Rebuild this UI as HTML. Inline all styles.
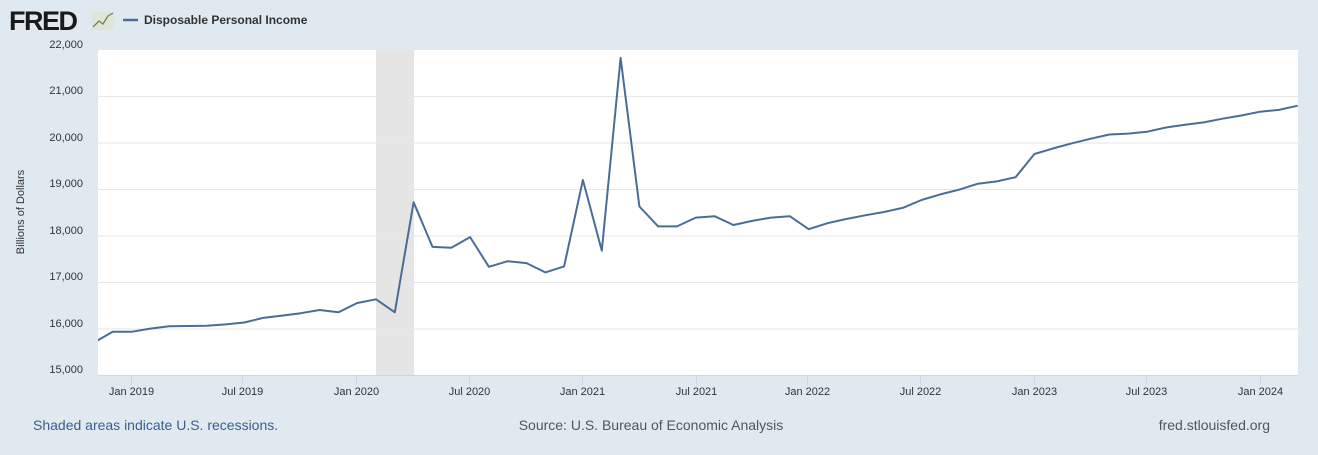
<!DOCTYPE html>
<html><head><style>
body{margin:0;background:#e1e9f0;width:1318px;height:450px;overflow:hidden;font-family:"Liberation Sans",sans-serif}
</style></head><body>
<svg width="1318" height="450" xmlns="http://www.w3.org/2000/svg" font-family="Liberation Sans, sans-serif">
<rect width="1318" height="450" fill="#e1e9f0"/>
<text x="9" y="30" font-size="27" font-weight="bold" fill="#1a1a1a" letter-spacing="-1.5">FRED</text>
<rect x="92" y="12" width="22" height="18" fill="#dfe6d8"/>
<polyline points="93,27 99,21 103,24 108,16 113,13" fill="none" stroke="#6a8a4a" stroke-width="1.3"/>
<line x1="123" y1="20" x2="138" y2="20" stroke="#4a6d98" stroke-width="2.5"/>
<text x="144" y="24" font-size="12" font-weight="bold" fill="#333">Disposable Personal Income</text>
<rect x="98" y="50" width="1200" height="325" fill="#fff"/>
<rect x="376" y="50" width="38" height="325" fill="#e5e5e5"/>
<g stroke="#e6e6e6" stroke-width="1">
<line x1="98" x2="1298" y1="96.5" y2="96.5"/><line x1="98" x2="1298" y1="143" y2="143"/>
<line x1="98" x2="1298" y1="189.5" y2="189.5"/><line x1="98" x2="1298" y1="236" y2="236"/>
<line x1="98" x2="1298" y1="282.5" y2="282.5"/><line x1="98" x2="1298" y1="329" y2="329"/>
</g>
<line x1="98" x2="1298" y1="375.5" y2="375.5" stroke="#ccd6eb"/>
<g stroke="#ccd6eb"><line x1="131.5" x2="131.5" y1="375" y2="385"/><line x1="242.5" x2="242.5" y1="375" y2="385"/><line x1="356.5" x2="356.5" y1="375" y2="385"/><line x1="469.5" x2="469.5" y1="375" y2="385"/><line x1="582.5" x2="582.5" y1="375" y2="385"/><line x1="696.5" x2="696.5" y1="375" y2="385"/><line x1="807.5" x2="807.5" y1="375" y2="385"/><line x1="920.5" x2="920.5" y1="375" y2="385"/><line x1="1034.5" x2="1034.5" y1="375" y2="385"/><line x1="1146.5" x2="1146.5" y1="375" y2="385"/><line x1="1260.5" x2="1260.5" y1="375" y2="385"/></g>
<g font-size="11" fill="#333" text-anchor="end">
<text x="83" y="48">22,000</text><text x="83" y="94">21,000</text><text x="83" y="141">20,000</text><text x="83" y="187">19,000</text><text x="83" y="234">18,000</text><text x="83" y="280">17,000</text><text x="83" y="327">16,000</text><text x="83" y="373">15,000</text>
</g>
<text transform="translate(24,212) rotate(-90)" font-size="11" fill="#333" text-anchor="middle">Billions of Dollars</text>
<g font-size="11" fill="#333" text-anchor="middle">
<text x="131.5" y="395">Jan 2019</text><text x="242.5" y="395">Jul 2019</text><text x="356.5" y="395">Jan 2020</text><text x="469.5" y="395">Jul 2020</text><text x="582.5" y="395">Jan 2021</text><text x="696.5" y="395">Jul 2021</text><text x="807.5" y="395">Jan 2022</text><text x="920.5" y="395">Jul 2022</text><text x="1034.5" y="395">Jan 2023</text><text x="1146.5" y="395">Jul 2023</text><text x="1260.5" y="395">Jan 2024</text>
</g>
<defs><clipPath id="c"><rect x="98" y="45" width="1200" height="335"/></clipPath></defs>
<polyline id="ln" clip-path="url(#c)" fill="none" stroke="#4a6d98" stroke-width="2" stroke-linejoin="round" points=""/>
<text x="33" y="430" font-size="14" fill="#3a5f8e">Shaded areas indicate U.S. recessions.</text>
<text x="651" y="430" font-size="14" fill="#555" text-anchor="middle">Source: U.S. Bureau of Economic Analysis</text>
<text x="1270" y="430" font-size="14" fill="#555" text-anchor="end">fred.stlouisfed.org</text>
</svg>
<script>
var v=[15700,15930,15930,16000,16050,16055,16060,16090,16130,16230,16280,16330,16400,16350,16550,16630,16350,18720,17760,17740,17970,17330,17450,17410,17210,17340,19200,17680,21830,18630,18200,18200,18390,18420,18230,18320,18390,18420,18140,18270,18360,18440,18510,18600,18770,18890,18990,19120,19170,19260,19760,19880,19990,20090,20180,20200,20240,20330,20390,20440,20520,20590,20670,20710,20800];
var p=[];for(var i=0;i<v.length;i++){var m=i-2;p.push((131.5+18.81*m).toFixed(1)+","+(375-(v[i]-15000)*0.04643).toFixed(1));}
document.getElementById("ln").setAttribute("points",p.join(" "));
</script>
</body></html>
